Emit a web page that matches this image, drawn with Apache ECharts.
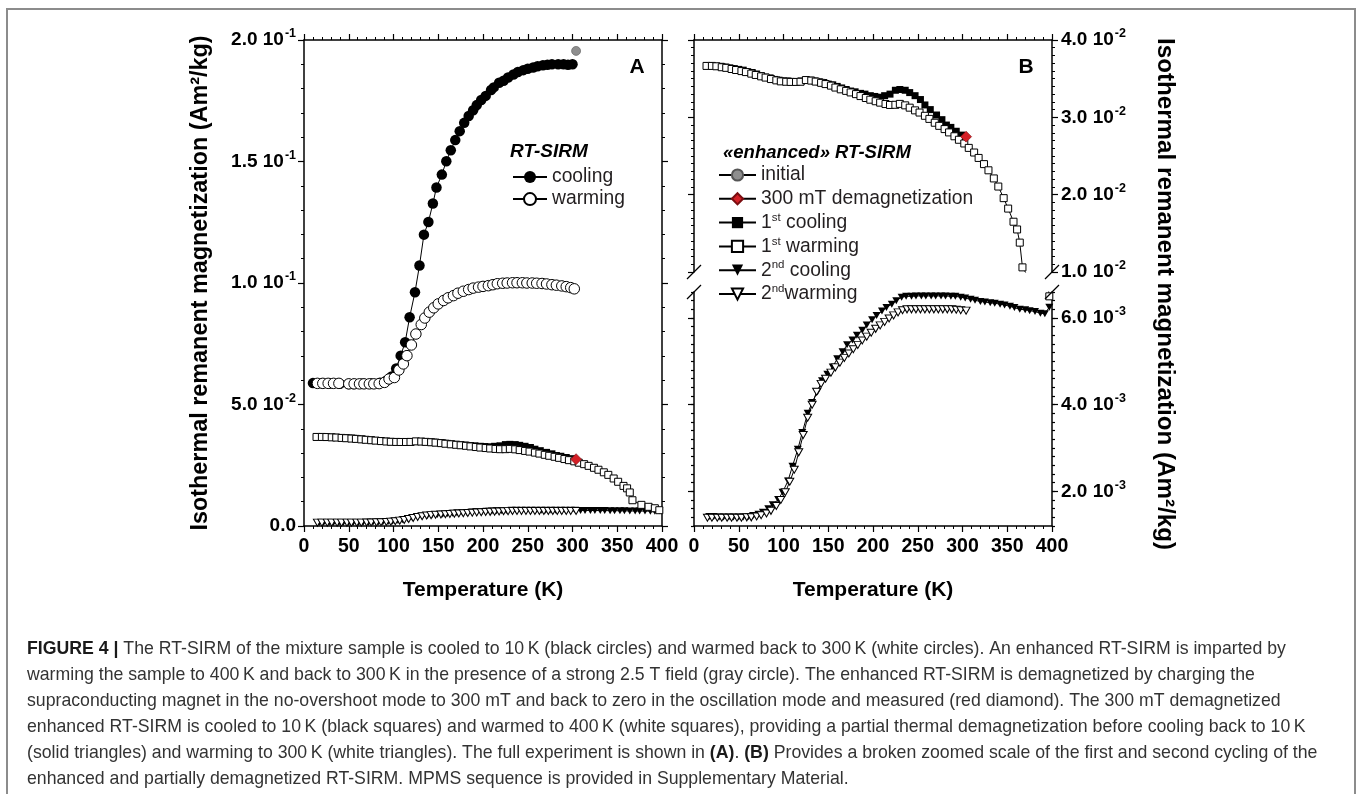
<!DOCTYPE html>
<html><head><meta charset="utf-8">
<script src="https://cdn.jsdelivr.net/npm/echarts@6/dist/echarts.min.js"></script>
<style>html,body{margin:0;padding:0;background:#fff}#c{width:1358px;height:794px}</style>
</head><body><div id="c"></div>
<script>
// ---------------- DATA ----------------
// RT-SIRM (panel A)
const rtCoolT = [300,295,290,284,277,272,267,261,256,250,245,239,234,228,223,218,212,209,203,198,193,189,184,179,174,169,164,159,154,148,144,139,134,129,124,118,113,108,103,98,92,85,75,65,55,50,40,30,20,10];
const rtCoolM = [0.1900,0.1898,0.1900,0.1900,0.1900,0.1898,0.1896,0.1892,0.1887,0.1882,0.1876,0.1868,0.1858,0.1846,0.1832,0.1824,0.1805,0.1794,0.1770,0.1753,0.1732,0.1711,0.1687,0.1659,0.1625,0.1588,0.1546,0.1501,0.1446,0.1393,0.1327,0.1251,0.1199,0.1072,0.0962,0.0859,0.0756,0.0701,0.0648,0.0615,0.0598,0.0590,0.0586,0.0585,0.0584,0.0584,0.0585,0.0586,0.0587,0.0588];
const rtWarmT = [15,21,27,33,39,50,56,62,67,73,78,84,90,95,101,106,111,115,120,125,131,135,140,145,150,156,161,167,172,178,184,189,195,200,206,211,216,222,227,233,238,244,249,255,260,266,271,277,282,288,293,298,302];
const rtWarmM = [0.0587,0.0587,0.0587,0.0587,0.0587,0.0585,0.0585,0.0585,0.0585,0.0585,0.0585,0.0586,0.0591,0.0605,0.0611,0.0642,0.0667,0.0701,0.0745,0.0790,0.0829,0.0856,0.0880,0.0898,0.0914,0.0928,0.0939,0.0948,0.0958,0.0966,0.0973,0.0979,0.0983,0.0986,0.0989,0.0993,0.0997,0.0999,0.1000,0.1001,0.1001,0.1001,0.1000,0.1000,0.0999,0.0998,0.0996,0.0993,0.0991,0.0988,0.0985,0.0981,0.0976];
// enhanced RT-SIRM
const initialT = [304];
const initialM = [0.1955];
const demagT = [304];
const demagM = [0.0275];
const cool1T = [299,293,287,282,277,271,264,258,253,247,241,236,230,225,219,213,208,202,197,191,186,180,175,170,165,160,155,150,145,140,135,130,125,120,115,110,105,100,95,90,85,80,75,70,65,60,55,50,45,40,35,30,25,20,15];
const cool1M = [0.0277,0.0282,0.0287,0.0290,0.0297,0.0303,0.0310,0.0316,0.0323,0.0328,0.0332,0.0335,0.0336,0.0335,0.0330,0.0328,0.0326,0.0327,0.0328,0.0330,0.0331,0.0333,0.0334,0.0336,0.0338,0.0340,0.0342,0.0343,0.0345,0.0346,0.0347,0.0348,0.0348,0.0347,0.0346,0.0346,0.0347,0.0347,0.0348,0.0349,0.0351,0.0352,0.0354,0.0356,0.0358,0.0359,0.0361,0.0362,0.0363,0.0364,0.0365,0.0366,0.0366,0.0367,0.0367];
const warm1T = [14,20,25,31,36,42,47,53,58,64,69,75,80,86,92,97,103,108,114,119,125,131,136,142,147,153,158,164,170,175,181,186,192,197,203,208,214,219,225,230,236,241,247,252,258,263,269,274,280,285,291,296,302,307,313,318,324,329,335,340,346,351,357,361,364,367,377,385,392,397];
const warm1M = [0.03665,0.03665,0.0366,0.03648,0.0364,0.03625,0.03612,0.03598,0.03585,0.03565,0.03548,0.0353,0.03514,0.03495,0.03478,0.03465,0.0346,0.03458,0.03458,0.0346,0.03482,0.03475,0.03462,0.03446,0.0343,0.0341,0.03385,0.03362,0.03342,0.03322,0.033,0.03275,0.0325,0.03228,0.03208,0.0319,0.03172,0.0316,0.03162,0.03174,0.03155,0.03125,0.0309,0.03062,0.0302,0.0298,0.0293,0.0289,0.02848,0.02805,0.02755,0.0271,0.02662,0.02605,0.02545,0.02475,0.02395,0.02315,0.0221,0.02105,0.01955,0.0182,0.0165,0.0155,0.0138,0.0106,0.0087,0.0079,0.0073,0.0065];
const cool2T = [397,392,387,381,375,370,364,358,353,347,342,336,331,325,320,314,309,303,298,292,287,281,276,270,265,259,254,248,243,237,232,226,221,215,210,204,199,193,188,182,177,171,166,160,155,149,143,138,132,127,121,116,110,105,99,94,88,83,77,72,66,61,55,50,44,39,33,28,22,17];
const cool2M = [0.00625,0.0061,0.00611,0.00615,0.00617,0.00619,0.0062,0.00624,0.00627,0.0063,0.00632,0.00634,0.00635,0.00637,0.00638,0.00641,0.00643,0.00646,0.00648,0.0065,0.0065,0.00651,0.00651,0.00651,0.00651,0.00651,0.00651,0.00651,0.0065,0.0065,0.00648,0.0064,0.00632,0.00624,0.00616,0.00606,0.00596,0.00584,0.00572,0.0056,0.00549,0.00538,0.00522,0.00506,0.00487,0.0047,0.00455,0.0043,0.00405,0.0038,0.00336,0.00297,0.00258,0.00224,0.00198,0.00181,0.00169,0.0016,0.00152,0.00147,0.00144,0.00142,0.00141,0.00141,0.00141,0.00141,0.00141,0.00141,0.00142,0.00142];
const warm2T = [15,20,26,31,37,42,48,53,59,64,70,75,81,86,92,97,102,107,112,117,122,127,132,137,142,147,153,158,163,168,173,178,183,188,193,198,203,208,213,218,223,228,233,238,243,248,253,258,263,268,273,278,283,288,293,298,304];
const warm2M = [0.00139,0.00139,0.00139,0.00139,0.00139,0.00139,0.00139,0.00139,0.0014,0.0014,0.00142,0.00145,0.00149,0.00155,0.00166,0.0018,0.00198,0.00222,0.0025,0.0029,0.0033,0.0037,0.004,0.0043,0.00448,0.0046,0.00474,0.00486,0.00497,0.00508,0.00518,0.00528,0.00538,0.00548,0.00557,0.00566,0.00575,0.00583,0.00591,0.00599,0.00606,0.00613,0.00618,0.0062,0.0062,0.0062,0.0062,0.0062,0.0062,0.0062,0.0062,0.0062,0.0062,0.0062,0.00619,0.00618,0.00617];
// tick values
const tempTicks = [0,50,100,150,200,250,300,350,400];
const yTicksA = [0,0.05,0.10,0.15,0.20];
const yTicksBUp = [0.01,0.02,0.03,0.04];
const yTicksBLow = [0.002,0.004,0.006];

// ---------------- BUILD ----------------
const FF = '"Liberation Sans", Arial, Helvetica, sans-serif';
const zip = (t, m) => t.map((x, i) => [x, m[i]]);
const INV_TRI = 'path://M0,0L10,0L5,8.66Z';

function sci(v) {
  if (Math.abs(v) < 1e-12) return '{m|0.0}';
  const e = Math.floor(Math.log10(v) + 1e-9);
  const m = v / Math.pow(10, e);
  return '{m|' + m.toFixed(1) + ' 10}{e|' + e + '}';
}
const sciRich = {
  m: {fontSize: 19, fontWeight: 'bold', color: '#000', fontFamily: FF, lineHeight: 25},
  e: {fontSize: 12.5, fontWeight: 'bold', color: '#000', fontFamily: FF, verticalAlign: 'top', lineHeight: 13, padding: [0, 0, 0, 1]}
};

const axLine = {show: true, onZero: false, lineStyle: {color: '#000', width: 1.5}};
const axTick = (len) => ({show: true, inside: false, length: len, lineStyle: {color: '#000', width: 1.2}});
const minor = (n) => ({show: true, splitNumber: n, length: 3, lineStyle: {color: '#000', width: 1}});
const noSplit = {show: false};
const xLab = {show: true, fontSize: 19.5, fontWeight: 'bold', color: '#000', fontFamily: FF, margin: 11};
const xTitleStyle = {fontSize: 21, fontWeight: 'bold', color: '#000', fontFamily: FF};

function xAx(grid, pos, labels, name) {
  return {
    type: 'value', gridIndex: grid, position: pos, min: 0, max: 400, interval: 50,
    axisLine: axLine, axisTick: axTick(6), minorTick: minor(5), splitLine: noSplit,
    axisLabel: labels ? xLab : {show: false},
    name: name || '', nameLocation: 'middle', nameGap: 54, nameTextStyle: xTitleStyle
  };
}

function ser(name, xi, yi, t, m, sym, size, fill, z, extra) {
  const filled = fill !== '#fff';
  const s = {
    type: 'line', name: name, xAxisIndex: xi, yAxisIndex: yi, data: zip(t, m),
    symbol: sym, symbolSize: size, showSymbol: true, clip: true, z: z,
    lineStyle: {color: '#000', width: 1},
    itemStyle: {color: fill, borderColor: '#000', borderWidth: filled ? 0 : 1},
    emphasis: {disabled: true}, animation: false
  };
  return Object.assign(s, extra || {});
}
const grayStyle = {itemStyle: {color: '#8e8e8e', borderColor: '#555', borderWidth: 0.6}};
const redStyle = {itemStyle: {color: '#d42027', borderColor: '#7a0d10', borderWidth: 0.6}};

const series = [
  // Panel A
  ser('cooling', 0, 0, rtCoolT, rtCoolM, 'circle', 10.5, '#000', 2),
  ser('warming', 0, 0, rtWarmT, rtWarmM, 'circle', 10.5, '#fff', 3),
  ser('1st cooling', 0, 0, cool1T, cool1M, 'rect', 7, '#000', 2),
  ser('1st warming', 0, 0, warm1T, warm1M, 'rect', 7, '#fff', 3),
  ser('2nd cooling', 0, 0, cool2T, cool2M, INV_TRI, [8, 7], '#000', 2),
  ser('2nd warming', 0, 0, warm2T, warm2M, INV_TRI, [8, 7], '#fff', 3),
  ser('initial', 0, 0, initialT, initialM, 'circle', 9, '#8e8e8e', 5, grayStyle),
  ser('300 mT demagnetization', 0, 0, demagT, demagM, 'diamond', 11, '#d42027', 6, redStyle),
  // Panel B upper
  ser('1st cooling', 2, 2, cool1T, cool1M, 'rect', 7, '#000', 2),
  ser('1st warming', 2, 2, warm1T, warm1M, 'rect', 7, '#fff', 3),
  ser('300 mT demagnetization', 2, 2, demagT, demagM, 'diamond', 11, '#d42027', 6, redStyle),
  // Panel B lower
  ser('1st warming', 3, 4, warm1T, warm1M, 'rect', 7, '#fff', 3),
  ser('2nd cooling', 3, 4, cool2T, cool2M, INV_TRI, [8, 7], '#000', 2),
  ser('2nd warming', 3, 4, warm2T, warm2M, INV_TRI, [8, 7], '#fff', 3)
];

const legendNamesB = {
  'initial': '{n|initial}{s| }',
  '300 mT demagnetization': '{n|300 mT demagnetization}{s| }',
  '1st cooling': '{n|1}{s|st}{n| cooling}',
  '1st warming': '{n|1}{s|st}{n| warming}',
  '2nd cooling': '{n|2}{s|nd}{n| cooling}',
  '2nd warming': '{n|2}{s|nd}{n|warming}'
};
const legRich = {
  n: {fontSize: 19.3, lineHeight: 22, fontFamily: FF, color: '#231f20'},
  s: {fontSize: 11.5, lineHeight: 12, fontFamily: FF, color: '#231f20', verticalAlign: 'top'}
};

const caption =
  '{b|FIGURE 4 |} The RT-SIRM of the mixture sample is cooled to 10\u2009K (black circles) and warmed back to 300\u2009K (white circles). An enhanced RT-SIRM is imparted by\n' +
  'warming the sample to 400\u2009K and back to 300\u2009K in the presence of a strong 2.5 T field (gray circle). The enhanced RT-SIRM is demagnetized by charging the\n' +
  'supraconducting magnet in the no-overshoot mode to 300 mT and back to zero in the oscillation mode and measured (red diamond). The 300 mT demagnetized\n' +
  'enhanced RT-SIRM is cooled to 10\u2009K (black squares) and warmed to 400\u2009K (white squares), providing a partial thermal demagnetization before cooling back to 10\u2009K\n' +
  '(solid triangles) and warming to 300\u2009K (white triangles). The full experiment is shown in {b|(A)}. {b|(B)} Provides a broken zoomed scale of the first and second cycling of the\n' +
  'enhanced and partially demagnetized RT-SIRM. MPMS sequence is provided in Supplementary Material.';

const slash = (x1, y1, x2, y2) => ({type: 'line', shape: {x1, y1, x2, y2}, style: {stroke: '#000', lineWidth: 1.2}, z: 100});

const option = {
  animation: false,
  backgroundColor: '#fff',
  grid: [
    {left: 304, top: 40, width: 358, height: 486},
    {left: 694, top: 40, width: 358, height: 232},
    {left: 694, top: 292, width: 358, height: 234},
    {left: 694, top: 51, width: 358, height: 486}
  ],
  xAxis: [
    xAx(0, 'bottom', true, 'Temperature (K)'),
    xAx(0, 'top', false),
    xAx(1, 'top', false),
    xAx(2, 'bottom', true, 'Temperature (K)'),
    {type: 'value', gridIndex: 3, show: false, min: 0, max: 1}
  ],
  yAxis: [
    {type: 'value', gridIndex: 0, position: 'left', min: 0, max: 0.2, interval: 0.05,
     axisLine: axLine, axisTick: axTick(6), minorTick: minor(5), splitLine: noSplit,
     axisLabel: {formatter: sci, rich: sciRich, margin: 8},
     name: 'Isothermal remanent magnetization (Am\u00b2/kg)', nameLocation: 'middle', nameGap: 92,
     nameTextStyle: {fontSize: 23.4, fontWeight: 'bold', color: '#000', fontFamily: FF}},
    {type: 'value', gridIndex: 0, position: 'right', min: 0, max: 0.2, interval: 0.05,
     axisLine: axLine, axisTick: axTick(6), minorTick: minor(5), splitLine: noSplit, axisLabel: {show: false}},
    {type: 'value', gridIndex: 1, position: 'left', min: 0.01, max: 0.04, interval: 0.01,
     axisLine: axLine, axisTick: axTick(6), minorTick: minor(10), splitLine: noSplit, axisLabel: {show: false}},
    {type: 'value', gridIndex: 1, position: 'right', min: 0.01, max: 0.04, interval: 0.01,
     axisLine: axLine, axisTick: axTick(6), minorTick: minor(10), splitLine: noSplit,
     axisLabel: {formatter: sci, rich: sciRich, margin: 9}},
    {type: 'value', gridIndex: 2, position: 'left', min: 0.0012, max: 0.0066, interval: 0.0002,
     axisLine: axLine, axisTick: axTick(3), splitLine: noSplit, axisLabel: {show: false}},
    {type: 'value', gridIndex: 2, position: 'left', min: 0.0012, max: 0.0066,
     axisLine: {show: false}, axisTick: Object.assign(axTick(6), {customValues: yTicksBLow}), splitLine: noSplit, axisLabel: {show: false}},
    {type: 'value', gridIndex: 2, position: 'right', min: 0.0012, max: 0.0066, interval: 0.0002,
     axisLine: axLine, axisTick: axTick(3), splitLine: noSplit, axisLabel: {show: false}},
    {type: 'value', gridIndex: 2, position: 'right', min: 0.0012, max: 0.0066,
     axisLine: {show: false}, axisTick: Object.assign(axTick(6), {customValues: yTicksBLow}), splitLine: noSplit,
     axisLabel: {customValues: yTicksBLow, formatter: sci, rich: sciRich, margin: 9}},
    {type: 'value', gridIndex: 3, position: 'right', min: 0, max: 1,
     axisLine: {show: false}, axisTick: {show: false}, axisLabel: {show: false}, splitLine: noSplit,
     name: 'Isothermal remanent magnetization (Am\u00b2/kg)', nameLocation: 'middle', nameRotate: -90, nameGap: 101,
     nameTextStyle: {fontSize: 24.2, fontWeight: 'bold', color: '#000', fontFamily: FF}}
  ],
  legend: [
    {data: ['cooling', 'warming'], orient: 'vertical', left: 512, top: 166, padding: 0, itemWidth: 34, itemHeight: 15, itemGap: 1.6,
     selectedMode: false, formatter: n => '{n|' + n + '}{s| }', textStyle: {rich: legRich}},
    {data: ['initial', '300 mT demagnetization', '1st cooling', '1st warming', '2nd cooling', '2nd warming'],
     orient: 'vertical', left: 718, top: 164, padding: 0, itemWidth: 37, itemHeight: 14, itemGap: 3.3,
     selectedMode: false, formatter: n => legendNamesB[n], textStyle: {rich: legRich}}
  ],
  graphic: [
    {type: 'rect', shape: {x: 7, y: 9, width: 1348, height: 820}, style: {fill: 'none', stroke: '#8c8c8c', lineWidth: 2}, z: 0},
    {type: 'text', x: 637, y: 67, style: {text: 'A', font: 'bold 21px ' + FF, fill: '#000', align: 'center', verticalAlign: 'middle'}},
    {type: 'text', x: 1026, y: 67, style: {text: 'B', font: 'bold 21px ' + FF, fill: '#000', align: 'center', verticalAlign: 'middle'}},
    {type: 'text', x: 510, y: 152, style: {text: 'RT-SIRM', font: 'italic bold 19px ' + FF, fill: '#000', align: 'left', verticalAlign: 'middle'}},
    {type: 'text', x: 723, y: 153, style: {text: '\u00abenhanced\u00bb RT-SIRM', font: 'italic bold 18.5px ' + FF, fill: '#000', align: 'left', verticalAlign: 'middle'}},
    slash(687, 279, 701, 265), slash(687, 299, 701, 285),
    slash(1045, 279, 1059, 265), slash(1045, 299, 1059, 285),
    {type: 'text', x: 27, y: 636, style: {
      text: caption, fontSize: 17.7, fontFamily: FF, fill: '#333', lineHeight: 26, align: 'left', verticalAlign: 'top',
      rich: {b: {fontSize: 17.7, fontFamily: FF, fontWeight: 'bold', fill: '#1a1a1a', lineHeight: 26}}
    }}
  ],
  series: series
};

const chart = echarts.init(document.getElementById('c'), null, {renderer: 'canvas'});
chart.setOption(option);
</script>
</body></html>
